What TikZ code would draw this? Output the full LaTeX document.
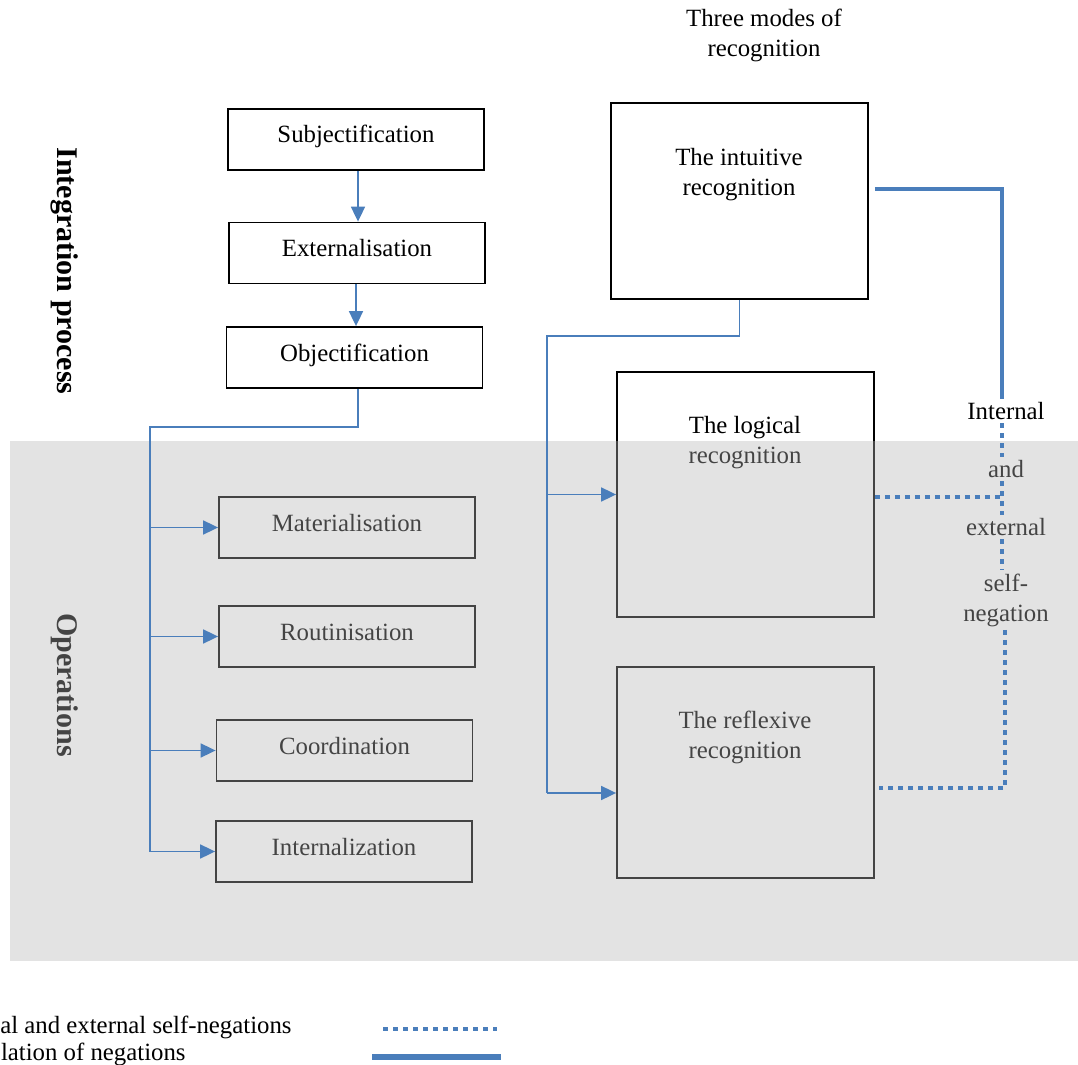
\documentclass[tikz,border=0pt]{standalone}
\usepackage{fontspec}
\setmainfont{Liberation Serif}
\usetikzlibrary{arrows.meta}
\definecolor{linkblue}{RGB}{74,126,187}
\definecolor{bandgray}{RGB}{181,181,181}
\begin{document}
\begin{tikzpicture}[x=0.5pt,y=-0.5pt,font=\fontsize{12.4}{15}\selectfont]
        \tikzstyle{step_box}  = [shape = rectangle, draw = black, line width=0.9pt, minimum width=128pt, minimum height=30.5pt, inner sep=0pt, text height=8.5pt, text depth=5pt]
        \tikzstyle{mode_box}  = [shape = rectangle, draw = black, line width=0.9pt, minimum width=128.5pt, inner sep=0pt]
        \tikzstyle{side_label} = [font=\fontsize{15}{18}\selectfont\bfseries, rotate=-90]
        \tikzstyle{neg_text}  = [inner sep=1.5pt]
        \tikzstyle{link}      = [draw = linkblue, line width=0.9pt]
        \tikzstyle{link_arr}  = [link, -{Triangle[length=7.5pt,width=7pt]}]
        \tikzstyle{self_neg}  = [draw = linkblue, line width=2pt, dash pattern=on 2.5pt off 2.5pt]
        \tikzstyle{neg_rel}   = [draw = linkblue, line width=2.2pt]
        \tikzstyle{ops_band}  = [fill = bandgray, fill opacity=0.38]

        \useasboundingbox (0,0) rectangle (1078,1065);

        \node[align=center] at (764,35) (title) {Three modes of\\recognition};

        \node[side_label] at (65,271) (integ) {Integration process};
        \node[side_label] at (65,685) (ops) {Operations};

        % integration steps
        \node[step_box] at (356,139.5) (subj) {Subjectification};
        \node[step_box] at (357,253) (ext) {Externalisation};
        \node[step_box] at (354.5,357.5) (obj) {Objectification};

        % operations
        \node[step_box] at (347,527.5) (mat) {Materialisation};
        \node[step_box] at (347,636.5) (rout) {Routinisation};
        \node[step_box] at (344.5,750.5) (coord) {Coordination};
        \node[step_box] at (344,851.5) (intern) {Internalization};

        % modes of recognition
        \node[mode_box, minimum height=98pt] at (739.5,201) (intuitive) {};
        \node[align=center] at (739,175) (intuitive_t) {The intuitive\\recognition};
        \node[mode_box, minimum height=122.5pt] at (745.5,494.5) (logical) {};
        \node[align=center] at (745,443) (logical_t) {The logical\\recognition};
        \node[mode_box, minimum height=105.5pt] at (745.5,772.5) (reflexive) {};
        \node[align=center] at (745,737) (reflexive_t) {The reflexive\\recognition};

        \node[neg_text] at (1006,411) (neg1) {Internal};
        \node[neg_text] at (1006,469) (neg2) {and};
        \node[neg_text] at (1006,527) (neg3) {external};
        \node[neg_text, align=center] at (1006,600) (neg4) {self-\\negation};

        % legend
        \node[anchor=east, inner sep=0pt] at (292,1027) (leg1) {al and external self-negations};
        \node[anchor=east, inner sep=0pt] at (186,1054) (leg2) {lation of negations};

        \fill[ops_band] (10,441) rectangle (1078,961);

        \coordinate (trunk_top) at (150,427);
        \coordinate (trunk_end) at (trunk_top |- intern.west);
        \coordinate (branch_top) at (547,336);
        \coordinate (branch_end) at (547,793);
        \coordinate (neg_corner) at (1002,189);
        \coordinate (dot_corner) at (1005,788);
        \coordinate (leg_dot_a) at (383,1029);
        \coordinate (leg_dot_b) at (497,1029);
        \coordinate (leg_line_a) at (372,1057);
        \coordinate (leg_line_b) at (501,1057);

        \draw[link_arr] ([xshift=1pt]subj.south) -- ([xshift=1pt]subj.south |- ext.north);
        \draw[link_arr] ([xshift=-0.5pt]ext.south) -- ([xshift=-0.5pt]ext.south |- obj.north);

        \draw[link] ([xshift=1.75pt]obj.south) |- (trunk_top) -- (trunk_end);
        \draw[link_arr] (trunk_top |- mat.west) -- (mat.west);
        \draw[link_arr] (trunk_top |- rout.west) -- (rout.west);
        \draw[link_arr] (trunk_top |- coord.west) -- (coord.west);
        \draw[link_arr] (trunk_end) -- (intern.west);

        \draw[link] (intuitive.south) |- (branch_top) -- (branch_end);
        \draw[link_arr] (branch_top |- logical.west) -- (logical.west);
        \draw[link_arr] (branch_end) -- (reflexive.west |- branch_end);

        \draw[neg_rel] ([xshift=3pt]intuitive.east |- neg_corner) -- (neg_corner) -- (neg_corner |- neg1.north);

        \draw[self_neg] (neg1.south -| neg_corner) -- (neg2.north -| neg_corner);
        \draw[self_neg] (neg2.south -| neg_corner) -- (neg3.north -| neg_corner);
        \draw[self_neg] (logical.east |- 0,497) -- (neg_corner |- 0,497);
        \draw[self_neg] (neg3.south -| neg_corner) -- (neg4.north -| neg_corner);
        \draw[self_neg] (neg4.south -| dot_corner) -- (dot_corner) -- ([xshift=2pt]reflexive.east |- dot_corner);

        \draw[self_neg] (leg_dot_a) -- (leg_dot_b);
        \draw[neg_rel, line width=2.6pt] (leg_line_a) -- (leg_line_b);
\end{tikzpicture}
\end{document}
